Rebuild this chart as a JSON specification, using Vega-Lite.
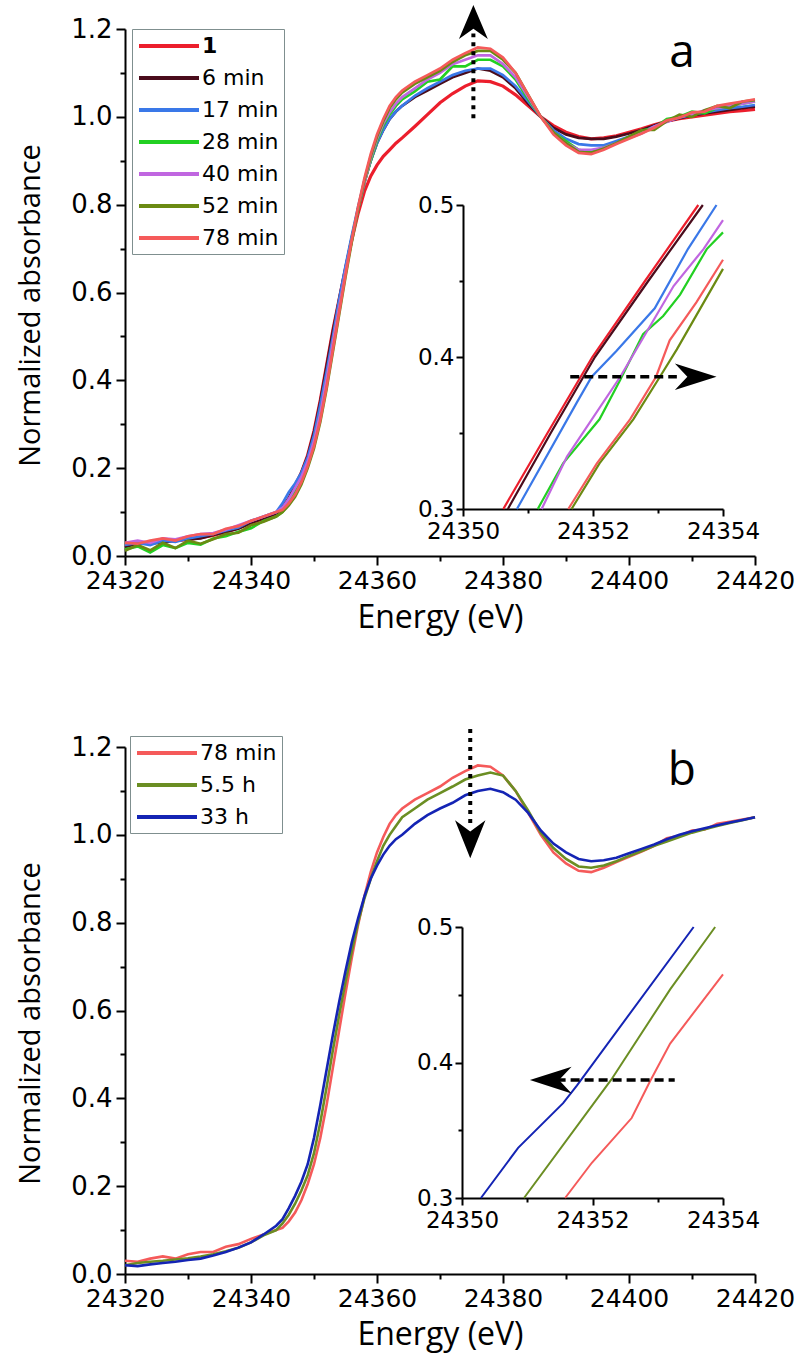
{
"$schema": "https://vega.github.io/schema/vega-lite/v6.json",
"width": 799, "height": 1356, "autosize": {"type": "none"}, "padding": 0,
"background": "white",
"config": {"view": {"stroke": null}, "axis": {"grid": false, "domainColor": "black", "tickColor": "black", "labelColor": "black", "titleColor": "black", "domainWidth": 2, "tickWidth": 2, "labelFont": "DejaVu Sans", "labelFlush": false, "labelOverlap": false, "labelBound": false}},
"datasets": {
"amain": [
{"s":"1","x":24320,"y":0.025},{"s":"1","x":24322,"y":0.03},{"s":"1","x":24324,"y":0.028},{"s":"1","x":24326,"y":0.033},{"s":"1","x":24328,"y":0.035},{"s":"1","x":24330,"y":0.037},{"s":"1","x":24332,"y":0.042},{"s":"1","x":24334,"y":0.047},{"s":"1","x":24336,"y":0.055},{"s":"1","x":24338,"y":0.064},{"s":"1","x":24340,"y":0.075},{"s":"1","x":24342,"y":0.085},{"s":"1","x":24344,"y":0.095},{"s":"1","x":24345,"y":0.11},{"s":"1","x":24346,"y":0.13},{"s":"1","x":24347,"y":0.16},{"s":"1","x":24348,"y":0.19},{"s":"1","x":24349,"y":0.23},{"s":"1","x":24350,"y":0.285},{"s":"1","x":24351,"y":0.355},{"s":"1","x":24352,"y":0.435},{"s":"1","x":24353,"y":0.515},{"s":"1","x":24354,"y":0.585},{"s":"1","x":24355,"y":0.655},{"s":"1","x":24356,"y":0.72},{"s":"1","x":24357,"y":0.78},{"s":"1","x":24358,"y":0.83},{"s":"1","x":24359,"y":0.865},{"s":"1","x":24360,"y":0.89},{"s":"1","x":24361,"y":0.91},{"s":"1","x":24362,"y":0.925},{"s":"1","x":24363,"y":0.94},{"s":"1","x":24364,"y":0.952},{"s":"1","x":24366,"y":0.978},{"s":"1","x":24368,"y":1.005},{"s":"1","x":24370,"y":1.032},{"s":"1","x":24372,"y":1.053},{"s":"1","x":24374,"y":1.07},{"s":"1","x":24376,"y":1.082},{"s":"1","x":24378,"y":1.08},{"s":"1","x":24380,"y":1.07},{"s":"1","x":24382,"y":1.05},{"s":"1","x":24384,"y":1.025},{"s":"1","x":24386,"y":1.0},{"s":"1","x":24388,"y":0.98},{"s":"1","x":24390,"y":0.965},{"s":"1","x":24392,"y":0.955},{"s":"1","x":24394,"y":0.95},{"s":"1","x":24396,"y":0.952},{"s":"1","x":24398,"y":0.957},{"s":"1","x":24400,"y":0.965},{"s":"1","x":24402,"y":0.973},{"s":"1","x":24404,"y":0.982},{"s":"1","x":24406,"y":0.99},{"s":"1","x":24408,"y":0.996},{"s":"1","x":24410,"y":1.0},{"s":"1","x":24412,"y":1.004},{"s":"1","x":24414,"y":1.008},{"s":"1","x":24416,"y":1.012},{"s":"1","x":24418,"y":1.014},{"s":"1","x":24420,"y":1.017},
{"s":"6 min","x":24320,"y":0.02},{"s":"6 min","x":24322,"y":0.028},{"s":"6 min","x":24324,"y":0.03},{"s":"6 min","x":24326,"y":0.03},{"s":"6 min","x":24328,"y":0.036},{"s":"6 min","x":24330,"y":0.038},{"s":"6 min","x":24332,"y":0.04},{"s":"6 min","x":24334,"y":0.048},{"s":"6 min","x":24336,"y":0.055},{"s":"6 min","x":24338,"y":0.062},{"s":"6 min","x":24340,"y":0.075},{"s":"6 min","x":24342,"y":0.086},{"s":"6 min","x":24344,"y":0.097},{"s":"6 min","x":24345,"y":0.112},{"s":"6 min","x":24346,"y":0.132},{"s":"6 min","x":24347,"y":0.16},{"s":"6 min","x":24348,"y":0.19},{"s":"6 min","x":24349,"y":0.228},{"s":"6 min","x":24350,"y":0.282},{"s":"6 min","x":24351,"y":0.352},{"s":"6 min","x":24352,"y":0.432},{"s":"6 min","x":24353,"y":0.512},{"s":"6 min","x":24354,"y":0.585},{"s":"6 min","x":24355,"y":0.655},{"s":"6 min","x":24356,"y":0.725},{"s":"6 min","x":24357,"y":0.79},{"s":"6 min","x":24358,"y":0.85},{"s":"6 min","x":24359,"y":0.9},{"s":"6 min","x":24360,"y":0.94},{"s":"6 min","x":24361,"y":0.97},{"s":"6 min","x":24362,"y":0.995},{"s":"6 min","x":24363,"y":1.012},{"s":"6 min","x":24364,"y":1.025},{"s":"6 min","x":24366,"y":1.045},{"s":"6 min","x":24368,"y":1.06},{"s":"6 min","x":24370,"y":1.075},{"s":"6 min","x":24372,"y":1.09},{"s":"6 min","x":24374,"y":1.1},{"s":"6 min","x":24376,"y":1.11},{"s":"6 min","x":24378,"y":1.105},{"s":"6 min","x":24380,"y":1.09},{"s":"6 min","x":24382,"y":1.065},{"s":"6 min","x":24384,"y":1.03},{"s":"6 min","x":24386,"y":1.0},{"s":"6 min","x":24388,"y":0.975},{"s":"6 min","x":24390,"y":0.96},{"s":"6 min","x":24392,"y":0.952},{"s":"6 min","x":24394,"y":0.95},{"s":"6 min","x":24396,"y":0.95},{"s":"6 min","x":24398,"y":0.955},{"s":"6 min","x":24400,"y":0.962},{"s":"6 min","x":24402,"y":0.97},{"s":"6 min","x":24404,"y":0.98},{"s":"6 min","x":24406,"y":0.99},{"s":"6 min","x":24408,"y":0.997},{"s":"6 min","x":24410,"y":1.003},{"s":"6 min","x":24412,"y":1.008},{"s":"6 min","x":24414,"y":1.012},{"s":"6 min","x":24416,"y":1.016},{"s":"6 min","x":24418,"y":1.02},{"s":"6 min","x":24420,"y":1.023},
{"s":"17 min","x":24320,"y":0.025},{"s":"17 min","x":24322,"y":0.03},{"s":"17 min","x":24324,"y":0.025},{"s":"17 min","x":24326,"y":0.035},{"s":"17 min","x":24328,"y":0.032},{"s":"17 min","x":24330,"y":0.04},{"s":"17 min","x":24332,"y":0.045},{"s":"17 min","x":24334,"y":0.05},{"s":"17 min","x":24336,"y":0.058},{"s":"17 min","x":24338,"y":0.065},{"s":"17 min","x":24340,"y":0.08},{"s":"17 min","x":24342,"y":0.09},{"s":"17 min","x":24344,"y":0.1},{"s":"17 min","x":24345,"y":0.12},{"s":"17 min","x":24346,"y":0.145},{"s":"17 min","x":24347,"y":0.165},{"s":"17 min","x":24348,"y":0.19},{"s":"17 min","x":24349,"y":0.225},{"s":"17 min","x":24350,"y":0.275},{"s":"17 min","x":24351,"y":0.345},{"s":"17 min","x":24352,"y":0.42},{"s":"17 min","x":24353,"y":0.5},{"s":"17 min","x":24354,"y":0.585},{"s":"17 min","x":24355,"y":0.66},{"s":"17 min","x":24356,"y":0.73},{"s":"17 min","x":24357,"y":0.795},{"s":"17 min","x":24358,"y":0.855},{"s":"17 min","x":24359,"y":0.9},{"s":"17 min","x":24360,"y":0.94},{"s":"17 min","x":24361,"y":0.97},{"s":"17 min","x":24362,"y":0.995},{"s":"17 min","x":24363,"y":1.012},{"s":"17 min","x":24364,"y":1.025},{"s":"17 min","x":24366,"y":1.048},{"s":"17 min","x":24368,"y":1.065},{"s":"17 min","x":24370,"y":1.08},{"s":"17 min","x":24372,"y":1.095},{"s":"17 min","x":24374,"y":1.105},{"s":"17 min","x":24376,"y":1.11},{"s":"17 min","x":24378,"y":1.11},{"s":"17 min","x":24380,"y":1.095},{"s":"17 min","x":24382,"y":1.07},{"s":"17 min","x":24384,"y":1.035},{"s":"17 min","x":24386,"y":1.0},{"s":"17 min","x":24388,"y":0.97},{"s":"17 min","x":24390,"y":0.95},{"s":"17 min","x":24392,"y":0.938},{"s":"17 min","x":24394,"y":0.935},{"s":"17 min","x":24396,"y":0.935},{"s":"17 min","x":24398,"y":0.945},{"s":"17 min","x":24400,"y":0.955},{"s":"17 min","x":24402,"y":0.965},{"s":"17 min","x":24404,"y":0.978},{"s":"17 min","x":24406,"y":0.99},{"s":"17 min","x":24408,"y":0.998},{"s":"17 min","x":24410,"y":1.005},{"s":"17 min","x":24412,"y":1.01},{"s":"17 min","x":24414,"y":1.015},{"s":"17 min","x":24416,"y":1.02},{"s":"17 min","x":24418,"y":1.023},{"s":"17 min","x":24420,"y":1.027},
{"s":"28 min","x":24320,"y":0.015},{"s":"28 min","x":24322,"y":0.022},{"s":"28 min","x":24324,"y":0.008},{"s":"28 min","x":24326,"y":0.025},{"s":"28 min","x":24328,"y":0.018},{"s":"28 min","x":24330,"y":0.03},{"s":"28 min","x":24332,"y":0.026},{"s":"28 min","x":24334,"y":0.04},{"s":"28 min","x":24336,"y":0.045},{"s":"28 min","x":24338,"y":0.055},{"s":"28 min","x":24340,"y":0.063},{"s":"28 min","x":24342,"y":0.08},{"s":"28 min","x":24344,"y":0.09},{"s":"28 min","x":24345,"y":0.1},{"s":"28 min","x":24346,"y":0.12},{"s":"28 min","x":24347,"y":0.145},{"s":"28 min","x":24348,"y":0.172},{"s":"28 min","x":24349,"y":0.21},{"s":"28 min","x":24350,"y":0.26},{"s":"28 min","x":24351,"y":0.325},{"s":"28 min","x":24352,"y":0.4},{"s":"28 min","x":24353,"y":0.485},{"s":"28 min","x":24354,"y":0.565},{"s":"28 min","x":24355,"y":0.645},{"s":"28 min","x":24356,"y":0.72},{"s":"28 min","x":24357,"y":0.79},{"s":"28 min","x":24358,"y":0.85},{"s":"28 min","x":24359,"y":0.9},{"s":"28 min","x":24360,"y":0.945},{"s":"28 min","x":24361,"y":0.98},{"s":"28 min","x":24362,"y":1.005},{"s":"28 min","x":24363,"y":1.025},{"s":"28 min","x":24364,"y":1.04},{"s":"28 min","x":24366,"y":1.058},{"s":"28 min","x":24368,"y":1.08},{"s":"28 min","x":24370,"y":1.085},{"s":"28 min","x":24372,"y":1.115},{"s":"28 min","x":24374,"y":1.115},{"s":"28 min","x":24376,"y":1.13},{"s":"28 min","x":24378,"y":1.13},{"s":"28 min","x":24380,"y":1.115},{"s":"28 min","x":24382,"y":1.085},{"s":"28 min","x":24384,"y":1.04},{"s":"28 min","x":24386,"y":1.0},{"s":"28 min","x":24388,"y":0.965},{"s":"28 min","x":24390,"y":0.945},{"s":"28 min","x":24392,"y":0.925},{"s":"28 min","x":24394,"y":0.92},{"s":"28 min","x":24396,"y":0.93},{"s":"28 min","x":24398,"y":0.94},{"s":"28 min","x":24400,"y":0.955},{"s":"28 min","x":24402,"y":0.968},{"s":"28 min","x":24404,"y":0.975},{"s":"28 min","x":24406,"y":0.995},{"s":"28 min","x":24408,"y":1.0},{"s":"28 min","x":24410,"y":1.012},{"s":"28 min","x":24412,"y":1.008},{"s":"28 min","x":24414,"y":1.02},{"s":"28 min","x":24416,"y":1.025},{"s":"28 min","x":24418,"y":1.03},{"s":"28 min","x":24420,"y":1.035},
{"s":"40 min","x":24320,"y":0.03},{"s":"40 min","x":24322,"y":0.035},{"s":"40 min","x":24324,"y":0.03},{"s":"40 min","x":24326,"y":0.04},{"s":"40 min","x":24328,"y":0.038},{"s":"40 min","x":24330,"y":0.045},{"s":"40 min","x":24332,"y":0.05},{"s":"40 min","x":24334,"y":0.052},{"s":"40 min","x":24336,"y":0.06},{"s":"40 min","x":24338,"y":0.07},{"s":"40 min","x":24340,"y":0.08},{"s":"40 min","x":24342,"y":0.09},{"s":"40 min","x":24344,"y":0.1},{"s":"40 min","x":24345,"y":0.11},{"s":"40 min","x":24346,"y":0.13},{"s":"40 min","x":24347,"y":0.155},{"s":"40 min","x":24348,"y":0.18},{"s":"40 min","x":24349,"y":0.215},{"s":"40 min","x":24350,"y":0.262},{"s":"40 min","x":24351,"y":0.325},{"s":"40 min","x":24352,"y":0.403},{"s":"40 min","x":24353,"y":0.487},{"s":"40 min","x":24354,"y":0.567},{"s":"40 min","x":24355,"y":0.648},{"s":"40 min","x":24356,"y":0.72},{"s":"40 min","x":24357,"y":0.79},{"s":"40 min","x":24358,"y":0.85},{"s":"40 min","x":24359,"y":0.905},{"s":"40 min","x":24360,"y":0.95},{"s":"40 min","x":24361,"y":0.985},{"s":"40 min","x":24362,"y":1.01},{"s":"40 min","x":24363,"y":1.03},{"s":"40 min","x":24364,"y":1.045},{"s":"40 min","x":24366,"y":1.065},{"s":"40 min","x":24368,"y":1.085},{"s":"40 min","x":24370,"y":1.1},{"s":"40 min","x":24372,"y":1.12},{"s":"40 min","x":24374,"y":1.13},{"s":"40 min","x":24376,"y":1.14},{"s":"40 min","x":24378,"y":1.14},{"s":"40 min","x":24380,"y":1.12},{"s":"40 min","x":24382,"y":1.09},{"s":"40 min","x":24384,"y":1.045},{"s":"40 min","x":24386,"y":1.0},{"s":"40 min","x":24388,"y":0.965},{"s":"40 min","x":24390,"y":0.94},{"s":"40 min","x":24392,"y":0.925},{"s":"40 min","x":24394,"y":0.925},{"s":"40 min","x":24396,"y":0.93},{"s":"40 min","x":24398,"y":0.94},{"s":"40 min","x":24400,"y":0.952},{"s":"40 min","x":24402,"y":0.962},{"s":"40 min","x":24404,"y":0.978},{"s":"40 min","x":24406,"y":0.988},{"s":"40 min","x":24408,"y":1.0},{"s":"40 min","x":24410,"y":1.005},{"s":"40 min","x":24412,"y":1.015},{"s":"40 min","x":24414,"y":1.02},{"s":"40 min","x":24416,"y":1.025},{"s":"40 min","x":24418,"y":1.03},{"s":"40 min","x":24420,"y":1.035},
{"s":"52 min","x":24320,"y":0.012},{"s":"52 min","x":24322,"y":0.025},{"s":"52 min","x":24324,"y":0.013},{"s":"52 min","x":24326,"y":0.03},{"s":"52 min","x":24328,"y":0.018},{"s":"52 min","x":24330,"y":0.035},{"s":"52 min","x":24332,"y":0.028},{"s":"52 min","x":24334,"y":0.038},{"s":"52 min","x":24336,"y":0.05},{"s":"52 min","x":24338,"y":0.053},{"s":"52 min","x":24340,"y":0.07},{"s":"52 min","x":24342,"y":0.078},{"s":"52 min","x":24344,"y":0.09},{"s":"52 min","x":24345,"y":0.1},{"s":"52 min","x":24346,"y":0.115},{"s":"52 min","x":24347,"y":0.135},{"s":"52 min","x":24348,"y":0.163},{"s":"52 min","x":24349,"y":0.2},{"s":"52 min","x":24350,"y":0.245},{"s":"52 min","x":24351,"y":0.305},{"s":"52 min","x":24352,"y":0.38},{"s":"52 min","x":24353,"y":0.465},{"s":"52 min","x":24354,"y":0.55},{"s":"52 min","x":24355,"y":0.635},{"s":"52 min","x":24356,"y":0.715},{"s":"52 min","x":24357,"y":0.79},{"s":"52 min","x":24358,"y":0.855},{"s":"52 min","x":24359,"y":0.91},{"s":"52 min","x":24360,"y":0.955},{"s":"52 min","x":24361,"y":0.99},{"s":"52 min","x":24362,"y":1.02},{"s":"52 min","x":24363,"y":1.04},{"s":"52 min","x":24364,"y":1.055},{"s":"52 min","x":24366,"y":1.075},{"s":"52 min","x":24368,"y":1.09},{"s":"52 min","x":24370,"y":1.105},{"s":"52 min","x":24372,"y":1.125},{"s":"52 min","x":24374,"y":1.14},{"s":"52 min","x":24376,"y":1.15},{"s":"52 min","x":24378,"y":1.15},{"s":"52 min","x":24380,"y":1.13},{"s":"52 min","x":24382,"y":1.1},{"s":"52 min","x":24384,"y":1.05},{"s":"52 min","x":24386,"y":1.0},{"s":"52 min","x":24388,"y":0.965},{"s":"52 min","x":24390,"y":0.94},{"s":"52 min","x":24392,"y":0.92},{"s":"52 min","x":24394,"y":0.918},{"s":"52 min","x":24396,"y":0.928},{"s":"52 min","x":24398,"y":0.94},{"s":"52 min","x":24400,"y":0.955},{"s":"52 min","x":24402,"y":0.97},{"s":"52 min","x":24404,"y":0.97},{"s":"52 min","x":24406,"y":0.99},{"s":"52 min","x":24408,"y":1.005},{"s":"52 min","x":24410,"y":1.0},{"s":"52 min","x":24412,"y":1.015},{"s":"52 min","x":24414,"y":1.025},{"s":"52 min","x":24416,"y":1.02},{"s":"52 min","x":24418,"y":1.035},{"s":"52 min","x":24420,"y":1.038},
{"s":"78 min","x":24320,"y":0.03},{"s":"78 min","x":24322,"y":0.028},{"s":"78 min","x":24324,"y":0.035},{"s":"78 min","x":24326,"y":0.04},{"s":"78 min","x":24328,"y":0.035},{"s":"78 min","x":24330,"y":0.045},{"s":"78 min","x":24332,"y":0.05},{"s":"78 min","x":24334,"y":0.05},{"s":"78 min","x":24336,"y":0.062},{"s":"78 min","x":24338,"y":0.068},{"s":"78 min","x":24340,"y":0.08},{"s":"78 min","x":24342,"y":0.09},{"s":"78 min","x":24344,"y":0.1},{"s":"78 min","x":24345,"y":0.105},{"s":"78 min","x":24346,"y":0.12},{"s":"78 min","x":24347,"y":0.14},{"s":"78 min","x":24348,"y":0.168},{"s":"78 min","x":24349,"y":0.205},{"s":"78 min","x":24350,"y":0.25},{"s":"78 min","x":24351,"y":0.31},{"s":"78 min","x":24352,"y":0.385},{"s":"78 min","x":24353,"y":0.47},{"s":"78 min","x":24354,"y":0.555},{"s":"78 min","x":24355,"y":0.64},{"s":"78 min","x":24356,"y":0.72},{"s":"78 min","x":24357,"y":0.795},{"s":"78 min","x":24358,"y":0.86},{"s":"78 min","x":24359,"y":0.915},{"s":"78 min","x":24360,"y":0.96},{"s":"78 min","x":24361,"y":0.995},{"s":"78 min","x":24362,"y":1.025},{"s":"78 min","x":24363,"y":1.045},{"s":"78 min","x":24364,"y":1.06},{"s":"78 min","x":24366,"y":1.08},{"s":"78 min","x":24368,"y":1.095},{"s":"78 min","x":24370,"y":1.11},{"s":"78 min","x":24372,"y":1.13},{"s":"78 min","x":24374,"y":1.145},{"s":"78 min","x":24376,"y":1.158},{"s":"78 min","x":24378,"y":1.155},{"s":"78 min","x":24380,"y":1.135},{"s":"78 min","x":24382,"y":1.1},{"s":"78 min","x":24384,"y":1.05},{"s":"78 min","x":24386,"y":1.0},{"s":"78 min","x":24388,"y":0.96},{"s":"78 min","x":24390,"y":0.935},{"s":"78 min","x":24392,"y":0.918},{"s":"78 min","x":24394,"y":0.915},{"s":"78 min","x":24396,"y":0.925},{"s":"78 min","x":24398,"y":0.938},{"s":"78 min","x":24400,"y":0.95},{"s":"78 min","x":24402,"y":0.962},{"s":"78 min","x":24404,"y":0.975},{"s":"78 min","x":24406,"y":0.992},{"s":"78 min","x":24408,"y":0.998},{"s":"78 min","x":24410,"y":1.01},{"s":"78 min","x":24412,"y":1.012},{"s":"78 min","x":24414,"y":1.025},{"s":"78 min","x":24416,"y":1.03},{"s":"78 min","x":24418,"y":1.035},{"s":"78 min","x":24420,"y":1.04}
],
"ainset": [
{"s":"1","x":24350.62,"y":0.3},{"s":"1","x":24351.3,"y":0.35},{"s":"1","x":24351.99,"y":0.4},{"s":"1","x":24352.8,"y":0.45},{"s":"1","x":24353.62,"y":0.5},
{"s":"6 min","x":24350.69,"y":0.3},{"s":"6 min","x":24351.35,"y":0.35},{"s":"6 min","x":24352.03,"y":0.4},{"s":"6 min","x":24352.85,"y":0.45},{"s":"6 min","x":24353.69,"y":0.5},
{"s":"17 min","x":24350.83,"y":0.3},{"s":"17 min","x":24351.75,"y":0.37},{"s":"17 min","x":24351.98,"y":0.387},{"s":"17 min","x":24352.36,"y":0.404},{"s":"17 min","x":24352.95,"y":0.432},{"s":"17 min","x":24353.46,"y":0.471},{"s":"17 min","x":24353.9,"y":0.5},
{"s":"28 min","x":24351.15,"y":0.3},{"s":"28 min","x":24351.54,"y":0.33},{"s":"28 min","x":24352.1,"y":0.359},{"s":"28 min","x":24352.42,"y":0.385},{"s":"28 min","x":24352.77,"y":0.415},{"s":"28 min","x":24353.08,"y":0.427},{"s":"28 min","x":24353.34,"y":0.441},{"s":"28 min","x":24353.75,"y":0.471},{"s":"28 min","x":24354.0,"y":0.482},
{"s":"40 min","x":24351.21,"y":0.3},{"s":"40 min","x":24351.6,"y":0.3345},{"s":"40 min","x":24352.42,"y":0.387},{"s":"40 min","x":24353.24,"y":0.4467},{"s":"40 min","x":24353.7,"y":0.471},{"s":"40 min","x":24354.0,"y":0.49},
{"s":"52 min","x":24351.67,"y":0.3},{"s":"52 min","x":24352.1,"y":0.33},{"s":"52 min","x":24352.62,"y":0.359},{"s":"52 min","x":24353.03,"y":0.387},{"s":"52 min","x":24353.29,"y":0.405},{"s":"52 min","x":24354.0,"y":0.458},
{"s":"78 min","x":24351.62,"y":0.3},{"s":"78 min","x":24352.06,"y":0.33},{"s":"78 min","x":24352.57,"y":0.359},{"s":"78 min","x":24352.97,"y":0.387},{"s":"78 min","x":24353.18,"y":0.411},{"s":"78 min","x":24353.59,"y":0.436},{"s":"78 min","x":24354.0,"y":0.464}
],
"bmain": [
{"s":"78 min","x":24320,"y":0.03},{"s":"78 min","x":24322,"y":0.028},{"s":"78 min","x":24324,"y":0.035},{"s":"78 min","x":24326,"y":0.04},{"s":"78 min","x":24328,"y":0.035},{"s":"78 min","x":24330,"y":0.045},{"s":"78 min","x":24332,"y":0.05},{"s":"78 min","x":24334,"y":0.05},{"s":"78 min","x":24336,"y":0.062},{"s":"78 min","x":24338,"y":0.068},{"s":"78 min","x":24340,"y":0.08},{"s":"78 min","x":24342,"y":0.09},{"s":"78 min","x":24344,"y":0.1},{"s":"78 min","x":24345,"y":0.105},{"s":"78 min","x":24346,"y":0.12},{"s":"78 min","x":24347,"y":0.14},{"s":"78 min","x":24348,"y":0.168},{"s":"78 min","x":24349,"y":0.205},{"s":"78 min","x":24350,"y":0.25},{"s":"78 min","x":24351,"y":0.31},{"s":"78 min","x":24352,"y":0.385},{"s":"78 min","x":24353,"y":0.47},{"s":"78 min","x":24354,"y":0.555},{"s":"78 min","x":24355,"y":0.64},{"s":"78 min","x":24356,"y":0.72},{"s":"78 min","x":24357,"y":0.795},{"s":"78 min","x":24358,"y":0.86},{"s":"78 min","x":24359,"y":0.915},{"s":"78 min","x":24360,"y":0.96},{"s":"78 min","x":24361,"y":0.995},{"s":"78 min","x":24362,"y":1.025},{"s":"78 min","x":24363,"y":1.045},{"s":"78 min","x":24364,"y":1.06},{"s":"78 min","x":24366,"y":1.08},{"s":"78 min","x":24368,"y":1.095},{"s":"78 min","x":24370,"y":1.11},{"s":"78 min","x":24372,"y":1.13},{"s":"78 min","x":24374,"y":1.145},{"s":"78 min","x":24376,"y":1.158},{"s":"78 min","x":24378,"y":1.155},{"s":"78 min","x":24380,"y":1.135},{"s":"78 min","x":24382,"y":1.1},{"s":"78 min","x":24384,"y":1.05},{"s":"78 min","x":24386,"y":1.0},{"s":"78 min","x":24388,"y":0.96},{"s":"78 min","x":24390,"y":0.935},{"s":"78 min","x":24392,"y":0.918},{"s":"78 min","x":24394,"y":0.915},{"s":"78 min","x":24396,"y":0.925},{"s":"78 min","x":24398,"y":0.938},{"s":"78 min","x":24400,"y":0.95},{"s":"78 min","x":24402,"y":0.962},{"s":"78 min","x":24404,"y":0.975},{"s":"78 min","x":24406,"y":0.992},{"s":"78 min","x":24408,"y":0.998},{"s":"78 min","x":24410,"y":1.01},{"s":"78 min","x":24412,"y":1.012},{"s":"78 min","x":24414,"y":1.025},{"s":"78 min","x":24416,"y":1.03},{"s":"78 min","x":24418,"y":1.035},{"s":"78 min","x":24420,"y":1.04},
{"s":"5.5 h","x":24320,"y":0.02},{"s":"5.5 h","x":24322,"y":0.025},{"s":"5.5 h","x":24324,"y":0.028},{"s":"5.5 h","x":24326,"y":0.03},{"s":"5.5 h","x":24328,"y":0.033},{"s":"5.5 h","x":24330,"y":0.036},{"s":"5.5 h","x":24332,"y":0.04},{"s":"5.5 h","x":24334,"y":0.045},{"s":"5.5 h","x":24336,"y":0.052},{"s":"5.5 h","x":24338,"y":0.06},{"s":"5.5 h","x":24340,"y":0.072},{"s":"5.5 h","x":24342,"y":0.088},{"s":"5.5 h","x":24344,"y":0.1},{"s":"5.5 h","x":24345,"y":0.115},{"s":"5.5 h","x":24346,"y":0.135},{"s":"5.5 h","x":24347,"y":0.16},{"s":"5.5 h","x":24348,"y":0.19},{"s":"5.5 h","x":24349,"y":0.225},{"s":"5.5 h","x":24350,"y":0.275},{"s":"5.5 h","x":24351,"y":0.345},{"s":"5.5 h","x":24352,"y":0.425},{"s":"5.5 h","x":24353,"y":0.51},{"s":"5.5 h","x":24354,"y":0.59},{"s":"5.5 h","x":24355,"y":0.665},{"s":"5.5 h","x":24356,"y":0.735},{"s":"5.5 h","x":24357,"y":0.8},{"s":"5.5 h","x":24358,"y":0.855},{"s":"5.5 h","x":24359,"y":0.9},{"s":"5.5 h","x":24360,"y":0.94},{"s":"5.5 h","x":24361,"y":0.975},{"s":"5.5 h","x":24362,"y":1.0},{"s":"5.5 h","x":24363,"y":1.02},{"s":"5.5 h","x":24364,"y":1.04},{"s":"5.5 h","x":24366,"y":1.06},{"s":"5.5 h","x":24368,"y":1.08},{"s":"5.5 h","x":24370,"y":1.095},{"s":"5.5 h","x":24372,"y":1.11},{"s":"5.5 h","x":24374,"y":1.126},{"s":"5.5 h","x":24376,"y":1.135},{"s":"5.5 h","x":24378,"y":1.142},{"s":"5.5 h","x":24380,"y":1.135},{"s":"5.5 h","x":24382,"y":1.1},{"s":"5.5 h","x":24384,"y":1.055},{"s":"5.5 h","x":24386,"y":1.005},{"s":"5.5 h","x":24388,"y":0.97},{"s":"5.5 h","x":24390,"y":0.945},{"s":"5.5 h","x":24392,"y":0.928},{"s":"5.5 h","x":24394,"y":0.925},{"s":"5.5 h","x":24396,"y":0.93},{"s":"5.5 h","x":24398,"y":0.94},{"s":"5.5 h","x":24400,"y":0.952},{"s":"5.5 h","x":24402,"y":0.963},{"s":"5.5 h","x":24404,"y":0.975},{"s":"5.5 h","x":24406,"y":0.985},{"s":"5.5 h","x":24408,"y":0.995},{"s":"5.5 h","x":24410,"y":1.005},{"s":"5.5 h","x":24412,"y":1.013},{"s":"5.5 h","x":24414,"y":1.02},{"s":"5.5 h","x":24416,"y":1.027},{"s":"5.5 h","x":24418,"y":1.033},{"s":"5.5 h","x":24420,"y":1.04},
{"s":"33 h","x":24320,"y":0.02},{"s":"33 h","x":24322,"y":0.018},{"s":"33 h","x":24324,"y":0.022},{"s":"33 h","x":24326,"y":0.025},{"s":"33 h","x":24328,"y":0.028},{"s":"33 h","x":24330,"y":0.032},{"s":"33 h","x":24332,"y":0.035},{"s":"33 h","x":24334,"y":0.042},{"s":"33 h","x":24336,"y":0.05},{"s":"33 h","x":24338,"y":0.06},{"s":"33 h","x":24340,"y":0.072},{"s":"33 h","x":24342,"y":0.09},{"s":"33 h","x":24344,"y":0.11},{"s":"33 h","x":24345,"y":0.125},{"s":"33 h","x":24346,"y":0.15},{"s":"33 h","x":24347,"y":0.178},{"s":"33 h","x":24348,"y":0.21},{"s":"33 h","x":24349,"y":0.25},{"s":"33 h","x":24350,"y":0.31},{"s":"33 h","x":24351,"y":0.385},{"s":"33 h","x":24352,"y":0.465},{"s":"33 h","x":24353,"y":0.545},{"s":"33 h","x":24354,"y":0.62},{"s":"33 h","x":24355,"y":0.69},{"s":"33 h","x":24356,"y":0.755},{"s":"33 h","x":24357,"y":0.81},{"s":"33 h","x":24358,"y":0.86},{"s":"33 h","x":24359,"y":0.9},{"s":"33 h","x":24360,"y":0.93},{"s":"33 h","x":24361,"y":0.955},{"s":"33 h","x":24362,"y":0.975},{"s":"33 h","x":24363,"y":0.99},{"s":"33 h","x":24364,"y":1.0},{"s":"33 h","x":24366,"y":1.025},{"s":"33 h","x":24368,"y":1.045},{"s":"33 h","x":24370,"y":1.06},{"s":"33 h","x":24372,"y":1.073},{"s":"33 h","x":24374,"y":1.09},{"s":"33 h","x":24376,"y":1.1},{"s":"33 h","x":24378,"y":1.105},{"s":"33 h","x":24380,"y":1.097},{"s":"33 h","x":24382,"y":1.08},{"s":"33 h","x":24384,"y":1.05},{"s":"33 h","x":24386,"y":1.01},{"s":"33 h","x":24388,"y":0.98},{"s":"33 h","x":24390,"y":0.96},{"s":"33 h","x":24392,"y":0.945},{"s":"33 h","x":24394,"y":0.94},{"s":"33 h","x":24396,"y":0.942},{"s":"33 h","x":24398,"y":0.948},{"s":"33 h","x":24400,"y":0.958},{"s":"33 h","x":24402,"y":0.968},{"s":"33 h","x":24404,"y":0.978},{"s":"33 h","x":24406,"y":0.99},{"s":"33 h","x":24408,"y":1.0},{"s":"33 h","x":24410,"y":1.008},{"s":"33 h","x":24412,"y":1.015},{"s":"33 h","x":24414,"y":1.022},{"s":"33 h","x":24416,"y":1.028},{"s":"33 h","x":24418,"y":1.034},{"s":"33 h","x":24420,"y":1.04}
],
"binset": [
{"s":"78 min","x":24351.58,"y":0.3},{"s":"78 min","x":24351.99,"y":0.326},{"s":"78 min","x":24352.6,"y":0.359},{"s":"78 min","x":24352.88,"y":0.386},{"s":"78 min","x":24353.19,"y":0.414},{"s":"78 min","x":24354.0,"y":0.465},
{"s":"5.5 h","x":24350.95,"y":0.3},{"s":"5.5 h","x":24352.29,"y":0.3875},{"s":"5.5 h","x":24353.19,"y":0.454},{"s":"5.5 h","x":24353.88,"y":0.5},
{"s":"33 h","x":24350.29,"y":0.3},{"s":"33 h","x":24350.86,"y":0.337},{"s":"33 h","x":24351.55,"y":0.37},{"s":"33 h","x":24351.76,"y":0.383},{"s":"33 h","x":24353.55,"y":0.5}
]
},
"resolve": {"scale": {"x": "independent", "y": "independent", "color": "independent"}, "legend": {"color": "independent"}},
"layer": [
{"data": {"name": "amain"}, "mark": {"type": "line"},
 "encoding": {
  "x": {"field": "x", "type": "quantitative", "scale": {"domain": [24320, 24420], "range": [125, 755], "nice": false, "zero": false},
   "axis": {"orient": "bottom", "offset": -800, "values": [24320,24330,24340,24350,24360,24370,24380,24390,24400,24410,24420], "format": "d", "labelExpr": "datum.value % 20 == 0 ? datum.label : ''", "tickSize": {"condition": {"test": "datum.value % 20 == 0", "value": 9}, "value": 5}, "labelFontSize": 25, "labelPadding": 3, "title": "Energy (eV)", "titleFont": "Open Sans", "titleFontSize": 32, "titleFontWeight": "normal", "titlePadding": 9}},
  "y": {"field": "y", "type": "quantitative", "scale": {"domain": [0, 1.2], "range": [556, 29], "nice": false, "zero": false},
   "axis": {"orient": "left", "offset": -125, "values": [0,0.1,0.2,0.3,0.4,0.5,0.6,0.7,0.8,0.9,1.0,1.1,1.2], "format": ".1f", "labelExpr": "round(datum.value*10) % 2 == 0 ? datum.label : ''", "tickSize": {"condition": {"test": "round(datum.value*10) % 2 == 0", "value": 9}, "value": 5}, "labelFontSize": 26, "labelPadding": 4, "title": "Normalized absorbance", "titleFont": "Open Sans", "titleFontSize": 29, "titleFontWeight": "normal", "titleX": -95, "titleY": 305, "titleBaseline": "middle", "titleAngle": -90}},
  "color": {"field": "s", "type": "nominal", "scale": {"domain": ["1","6 min","17 min","28 min","40 min","52 min","78 min"], "range": ["#ec1e2c","#4a0c1c","#3a78e8","#22d022","#c066e0","#6b8a12","#f55a5a"]},
   "legend": {"orient": "none", "legendX": 132, "legendY": 29, "title": null, "symbolType": "M-3,0L3,0", "symbolSize": 400, "symbolOffset": 20, "symbolStrokeWidth": 4, "labelFont": "DejaVu Sans", "labelFontSize": 22, "labelColor": "black", "labelOffset": 21, "rowPadding": 9, "padding": 5, "strokeColor": "#7f8f8f", "labelLimit": 0,
    "encode": {"labels": {"update": {"fontWeight": {"signal": "datum.label === '1' ? 'bold' : 'normal'"}}}}}},
  "strokeWidth": {"condition": {"test": "datum.s === '1'", "value": 3.2}, "value": 2.7}
 }},
{"data": {"name": "ainset"}, "mark": {"type": "line", "strokeWidth": 2.2},
 "encoding": {
  "x": {"field": "x", "type": "quantitative", "scale": {"domain": [24350, 24354], "range": [463, 723], "nice": false, "zero": false},
   "axis": {"orient": "bottom", "offset": -847, "values": [24350,24351,24352,24353,24354], "format": "d", "labelExpr": "datum.value % 2 == 0 ? datum.label : ''", "tickSize": {"condition": {"test": "datum.value % 2 == 0", "value": 7}, "value": 4}, "labelFontSize": 23, "labelPadding": 4, "title": null}},
  "y": {"field": "y", "type": "quantitative", "scale": {"domain": [0.3, 0.5], "range": [509, 205], "nice": false, "zero": false},
   "axis": {"orient": "left", "offset": -463, "values": [0.3,0.35,0.4,0.45,0.5], "format": ".1f", "labelExpr": "round(datum.value*100) % 10 == 0 ? datum.label : ''", "tickSize": {"condition": {"test": "round(datum.value*100) % 10 == 0", "value": 7}, "value": 4}, "labelFontSize": 23, "labelPadding": 2, "title": null}},
  "color": {"field": "s", "type": "nominal", "scale": {"domain": ["1","6 min","17 min","28 min","40 min","52 min","78 min"], "range": ["#ec1e2c","#4a0c1c","#3a78e8","#22d022","#c066e0","#6b8a12","#f55a5a"]}, "legend": null}
 }},
{"data": {"values": [{"x": 24375.3, "y": 0.997, "y2": 1.19}]}, "mark": {"type": "rule", "strokeWidth": 4, "strokeDash": [4, 5], "color": "black"},
 "encoding": {
  "x": {"field": "x", "type": "quantitative", "scale": {"domain": [24320, 24420], "range": [125, 755], "nice": false, "zero": false}, "axis": null},
  "y": {"field": "y", "type": "quantitative", "scale": {"domain": [0, 1.2], "range": [556, 29], "nice": false, "zero": false}, "axis": null},
  "y2": {"field": "y2"}}},
{"data": {"values": [{"x": 24375.3, "y": 1.216}]}, "mark": {"type": "point", "filled": true, "opacity": 1, "color": "black", "strokeWidth": 0, "shape": "M0,-1L0.85,1L0,0.4L-0.85,1Z", "size": 1156},
 "encoding": {
  "x": {"field": "x", "type": "quantitative", "scale": {"domain": [24320, 24420], "range": [125, 755], "nice": false, "zero": false}, "axis": null},
  "y": {"field": "y", "type": "quantitative", "scale": {"domain": [0, 1.2], "range": [556, 29], "nice": false, "zero": false}, "axis": null}}},
{"data": {"values": [{"x": 24351.65, "x2": 24353.29, "y": 0.387}]}, "mark": {"type": "rule", "strokeWidth": 3.5, "strokeDash": [9, 5], "color": "black"},
 "encoding": {
  "x": {"field": "x", "type": "quantitative", "scale": {"domain": [24350, 24354], "range": [463, 723], "nice": false, "zero": false}, "axis": null},
  "x2": {"field": "x2"},
  "y": {"field": "y", "type": "quantitative", "scale": {"domain": [0.3, 0.5], "range": [509, 205], "nice": false, "zero": false}, "axis": null}}},
{"data": {"values": [{"x": 24353.58, "y": 0.387}]}, "mark": {"type": "point", "filled": true, "opacity": 1, "color": "black", "strokeWidth": 0, "shape": "M1,0L-1,-0.64L-0.4,0L-1,0.64Z", "size": 1738},
 "encoding": {
  "x": {"field": "x", "type": "quantitative", "scale": {"domain": [24350, 24354], "range": [463, 723], "nice": false, "zero": false}, "axis": null},
  "y": {"field": "y", "type": "quantitative", "scale": {"domain": [0.3, 0.5], "range": [509, 205], "nice": false, "zero": false}, "axis": null}}},
{"data": {"values": [{"x": 24408.4, "y": 1.114, "t": "a"}]}, "mark": {"type": "text", "font": "Open Sans", "fontSize": 46, "baseline": "alphabetic", "align": "center", "color": "black"},
 "encoding": {
  "x": {"field": "x", "type": "quantitative", "scale": {"domain": [24320, 24420], "range": [125, 755], "nice": false, "zero": false}, "axis": null},
  "y": {"field": "y", "type": "quantitative", "scale": {"domain": [0, 1.2], "range": [556, 29], "nice": false, "zero": false}, "axis": null},
  "text": {"field": "t"}}},
{"data": {"name": "bmain"}, "mark": {"type": "line", "strokeWidth": 2.6},
 "encoding": {
  "x": {"field": "x", "type": "quantitative", "scale": {"domain": [24320, 24420], "range": [125, 755], "nice": false, "zero": false},
   "axis": {"orient": "bottom", "offset": -82, "values": [24320,24330,24340,24350,24360,24370,24380,24390,24400,24410,24420], "format": "d", "labelExpr": "datum.value % 20 == 0 ? datum.label : ''", "tickSize": {"condition": {"test": "datum.value % 20 == 0", "value": 9}, "value": 5}, "labelFontSize": 25, "labelPadding": 3, "title": "Energy (eV)", "titleFont": "Open Sans", "titleFontSize": 32, "titleFontWeight": "normal", "titlePadding": 8}},
  "y": {"field": "y", "type": "quantitative", "scale": {"domain": [0, 1.2], "range": [1274, 747], "nice": false, "zero": false},
   "axis": {"orient": "left", "offset": -125, "values": [0,0.1,0.2,0.3,0.4,0.5,0.6,0.7,0.8,0.9,1.0,1.1,1.2], "format": ".1f", "labelExpr": "round(datum.value*10) % 2 == 0 ? datum.label : ''", "tickSize": {"condition": {"test": "round(datum.value*10) % 2 == 0", "value": 9}, "value": 5}, "labelFontSize": 26, "labelPadding": 4, "title": "Normalized absorbance", "titleFont": "Open Sans", "titleFontSize": 29, "titleFontWeight": "normal", "titleX": -95, "titleY": 1023, "titleBaseline": "middle", "titleAngle": -90}},
  "color": {"field": "s", "type": "nominal", "scale": {"domain": ["78 min","5.5 h","33 h"], "range": ["#f55a5a","#6b8e23","#1424b4"]},
   "legend": {"orient": "none", "legendX": 130, "legendY": 736, "title": null, "symbolType": "M-3,0L3,0", "symbolSize": 400, "symbolOffset": 20, "symbolStrokeWidth": 4, "labelFont": "DejaVu Sans", "labelFontSize": 22, "labelColor": "black", "labelOffset": 21, "rowPadding": 9, "padding": 5, "strokeColor": "#7f8f8f", "labelLimit": 0}}
 }},
{"data": {"name": "binset"}, "mark": {"type": "line", "strokeWidth": 2},
 "encoding": {
  "x": {"field": "x", "type": "quantitative", "scale": {"domain": [24350, 24354], "range": [462, 723], "nice": false, "zero": false},
   "axis": {"orient": "bottom", "offset": -158, "values": [24350,24351,24352,24353,24354], "format": "d", "labelExpr": "datum.value % 2 == 0 ? datum.label : ''", "tickSize": {"condition": {"test": "datum.value % 2 == 0", "value": 7}, "value": 4}, "labelFontSize": 23, "labelPadding": 4, "title": null}},
  "y": {"field": "y", "type": "quantitative", "scale": {"domain": [0.3, 0.5], "range": [1198, 927], "nice": false, "zero": false},
   "axis": {"orient": "left", "offset": -462, "values": [0.3,0.35,0.4,0.45,0.5], "format": ".1f", "labelExpr": "round(datum.value*100) % 10 == 0 ? datum.label : ''", "tickSize": {"condition": {"test": "round(datum.value*100) % 10 == 0", "value": 7}, "value": 4}, "labelFontSize": 23, "labelPadding": 2, "title": null}},
  "color": {"field": "s", "type": "nominal", "scale": {"domain": ["78 min","5.5 h","33 h"], "range": ["#f55a5a","#6b8e23","#1424b4"]}, "legend": null}
 }},
{"data": {"values": [{"x": 24374.8, "y": 1.027, "y2": 1.243}]}, "mark": {"type": "rule", "strokeWidth": 4, "strokeDash": [4, 5], "color": "black"},
 "encoding": {
  "x": {"field": "x", "type": "quantitative", "scale": {"domain": [24320, 24420], "range": [125, 755], "nice": false, "zero": false}, "axis": null},
  "y": {"field": "y", "type": "quantitative", "scale": {"domain": [0, 1.2], "range": [1274, 747], "nice": false, "zero": false}, "axis": null},
  "y2": {"field": "y2"}}},
{"data": {"values": [{"x": 24374.8, "y": 0.99}]}, "mark": {"type": "point", "filled": true, "opacity": 1, "color": "black", "strokeWidth": 0, "shape": "M0,1L0.8,-1L0,-0.4L-0.8,-1Z", "size": 1444},
 "encoding": {
  "x": {"field": "x", "type": "quantitative", "scale": {"domain": [24320, 24420], "range": [125, 755], "nice": false, "zero": false}, "axis": null},
  "y": {"field": "y", "type": "quantitative", "scale": {"domain": [0, 1.2], "range": [1274, 747], "nice": false, "zero": false}, "axis": null}}},
{"data": {"values": [{"x": 24351.45, "x2": 24353.26, "y": 0.387}]}, "mark": {"type": "rule", "strokeWidth": 3.5, "strokeDash": [9, 5], "color": "black"},
 "encoding": {
  "x": {"field": "x", "type": "quantitative", "scale": {"domain": [24350, 24354], "range": [462, 723], "nice": false, "zero": false}, "axis": null},
  "x2": {"field": "x2"},
  "y": {"field": "y", "type": "quantitative", "scale": {"domain": [0.3, 0.5], "range": [1198, 927], "nice": false, "zero": false}, "axis": null}}},
{"data": {"values": [{"x": 24351.36, "y": 0.387}]}, "mark": {"type": "point", "filled": true, "opacity": 1, "color": "black", "strokeWidth": 0, "shape": "M-1,0L1,-0.64L0.4,0L1,0.64Z", "size": 1738},
 "encoding": {
  "x": {"field": "x", "type": "quantitative", "scale": {"domain": [24350, 24354], "range": [462, 723], "nice": false, "zero": false}, "axis": null},
  "y": {"field": "y", "type": "quantitative", "scale": {"domain": [0.3, 0.5], "range": [1198, 927], "nice": false, "zero": false}, "axis": null}}},
{"data": {"values": [{"x": 24408.4, "y": 1.114, "t": "b"}]}, "mark": {"type": "text", "font": "Open Sans", "fontSize": 46, "baseline": "alphabetic", "align": "center", "color": "black"},
 "encoding": {
  "x": {"field": "x", "type": "quantitative", "scale": {"domain": [24320, 24420], "range": [125, 755], "nice": false, "zero": false}, "axis": null},
  "y": {"field": "y", "type": "quantitative", "scale": {"domain": [0, 1.2], "range": [1274, 747], "nice": false, "zero": false}, "axis": null},
  "text": {"field": "t"}}}
]
}
